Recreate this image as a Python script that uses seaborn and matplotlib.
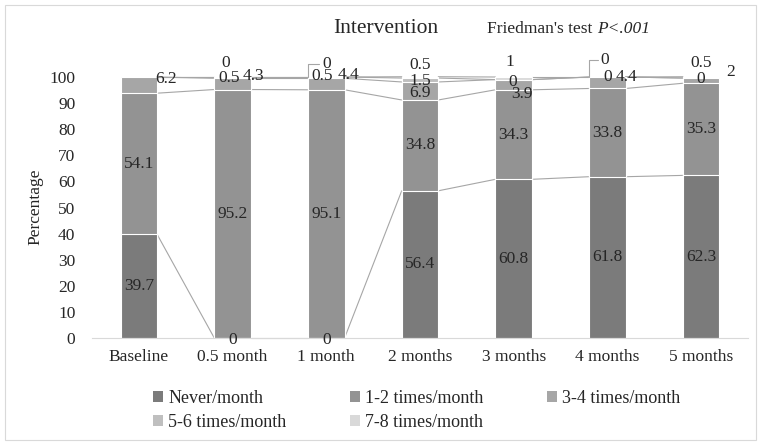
import numpy as np
import matplotlib
matplotlib.use("Agg")
import matplotlib.pyplot as plt
import seaborn as sns
from matplotlib.patches import Patch, Rectangle

# ---------------- data ----------------
categories = ["Baseline", "0.5 month", "1 month", "2 months", "3 months", "4 months", "5 months"]
series_names = ["Never/month", "1-2 times/month", "3-4 times/month", "5-6 times/month", "7-8 times/month"]
never = [39.7, 0, 0, 56.4, 60.8, 61.8, 62.3]
times_1_2 = [54.1, 95.2, 95.1, 34.8, 34.3, 33.8, 35.3]
times_3_4 = [6.2, 4.3, 4.4, 6.9, 3.9, 4.4, 2]
times_5_6 = [np.nan, 0.5, 0.5, 1.5, 0, 0, 0]
times_7_8 = [np.nan, 0, 0, 0.5, 1, 0, 0.5]
yticks = list(range(0, 101, 10))
title_text = "Intervention"
test_text = "Friedman's test "
test_p_text = "P<.001"
ylabel_text = "Percentage"

# ---------------- styles ----------------
colors = ["#7b7b7b", "#939393", "#a6a6a6", "#bfbfbf", "#d9d9d9"]
bar_width = 0.39
line_color = "#a6a6a6"
label_size = 12.5
# label offsets in pixels (dx, dy up)
label_offsets = [
    [(0, 0), (0, -2), (0, -2), (0, 0), (0, 0), (0, 0), (0, 0)],
    [(0, 0)] * 7,
    [(27, 6), (21, 8), (22, 9), (0, -2), (8, -9), (19, 6), (29, 9)],
    [(0, 0), (-3, 0), (-4, 2), (0, -1), (-1, -2), (0, 0), (0, -1)],
    [(0, 0), (-7, 14), (19, 13), (0, 12), (-4, 16), (16, 17), (0, 14)],
]
leader_labels = {(4, 2), (4, 5)}  # (series, category) with elbow leader lines

sns.set_style("white")
plt.rcParams["font.family"] = ["Liberation Serif", "DejaVu Serif"]
plt.rcParams["font.size"] = 12

W, H = 761, 445
fig = plt.figure(figsize=(W / 100, H / 100), dpi=100)
ax = fig.add_axes([92 / W, 107 / H, 656 / W, 261 / H])

series = [never, times_1_2, times_3_4, times_5_6, times_7_8]
vals = np.nan_to_num(np.array(series, dtype=float))
cum = np.cumsum(vals, axis=0)
bottoms = cum - vals

# stacked bars drawn as layered cumulative bars (top series first)
for k in range(len(series) - 1, -1, -1):
    sns.barplot(x=categories, y=cum[k], order=categories, color=colors[k],
                width=bar_width, saturation=1, edgecolor="white", linewidth=0.8,
                errorbar=None, ax=ax, zorder=2)

# series lines
n = len(categories)
for k in range(len(series)):
    for i in range(n - 1):
        ax.plot([i + bar_width / 2, i + 1 - bar_width / 2], [cum[k][i], cum[k][i + 1]],
                color=line_color, lw=0.8, zorder=1, clip_on=False)

ax.set_xlim(-0.5, n - 0.5)
ax.set_ylim(0, 100)
ax.set_yticks(yticks)
ax.set_yticklabels([str(t) for t in yticks])
ax.tick_params(axis="y", length=0, pad=12, labelsize=12.5)
ax.tick_params(axis="x", length=0, pad=8, labelsize=12.5)
ax.set_xlabel("")
ax.set_ylabel("")
for s in ["top", "right", "left"]:
    ax.spines[s].set_visible(False)
ax.spines["bottom"].set_color("#d9d9d9")
ax.spines["bottom"].set_linewidth(0.8)
ax.spines["bottom"].set_zorder(3)
ax.grid(False)

# data labels
for k in range(len(series)):
    for i in range(n):
        v = series[k][i]
        if v is None or (isinstance(v, float) and np.isnan(v)):
            continue
        dx, dy = label_offsets[k][i]
        txt = f"{v:g}"
        if (k, i) in leader_labels:
            ax.annotate(txt, xy=(i - bar_width / 2, cum[k][i]), xytext=(dx, dy),
                        textcoords="offset pixels", ha="center", va="center",
                        fontsize=label_size, annotation_clip=False, zorder=5,
                        arrowprops=dict(arrowstyle="-", color=line_color, lw=0.8,
                                        shrinkA=0, shrinkB=0,
                                        connectionstyle="angle,angleA=0,angleB=90,rad=0"))
        else:
            yc = bottoms[k][i] + vals[k][i] / 2
            ax.annotate(txt, xy=(i, yc), xytext=(dx, dy), textcoords="offset pixels",
                        ha="center", va="center", fontsize=label_size,
                        annotation_clip=False, zorder=5)

# titles
fig.text(386 / W, 1 - 33 / H, title_text, ha="center", va="baseline", fontsize=15.5)
t1 = fig.text(487 / W, 1 - 33 / H, test_text, ha="left", va="baseline", fontsize=12.5)
ax.annotate(test_p_text, xy=(1, 0), xycoords=t1, ha="left", va="bottom",
            fontsize=12.5, style="italic", annotation_clip=False)

# y label
fig.text(35 / W, 1 - 207 / H, ylabel_text, rotation=90, ha="center", va="center", fontsize=12.5)

# legend (row-major order for 3 columns)
handles = [Patch(facecolor=c, edgecolor="none") for c in colors]
order = [0, 3, 1, 4, 2]
fig.legend([handles[j] for j in order], [series_names[j] for j in order],
           loc="center left", bbox_to_anchor=(153 / W, 1 - 410.5 / H),
           ncol=3, frameon=False, fontsize=13, borderpad=0, borderaxespad=0,
           handlelength=0.55, handleheight=0.55, handletextpad=0.3,
           columnspacing=3.5, labelspacing=0.4)

# chart border
fig.patches.append(Rectangle((5 / W, 5 / H), 751 / W, 435 / H, transform=fig.transFigure,
                             fill=False, edgecolor="#d9d9d9", lw=0.8))

fig.savefig("out.png", dpi=100)
